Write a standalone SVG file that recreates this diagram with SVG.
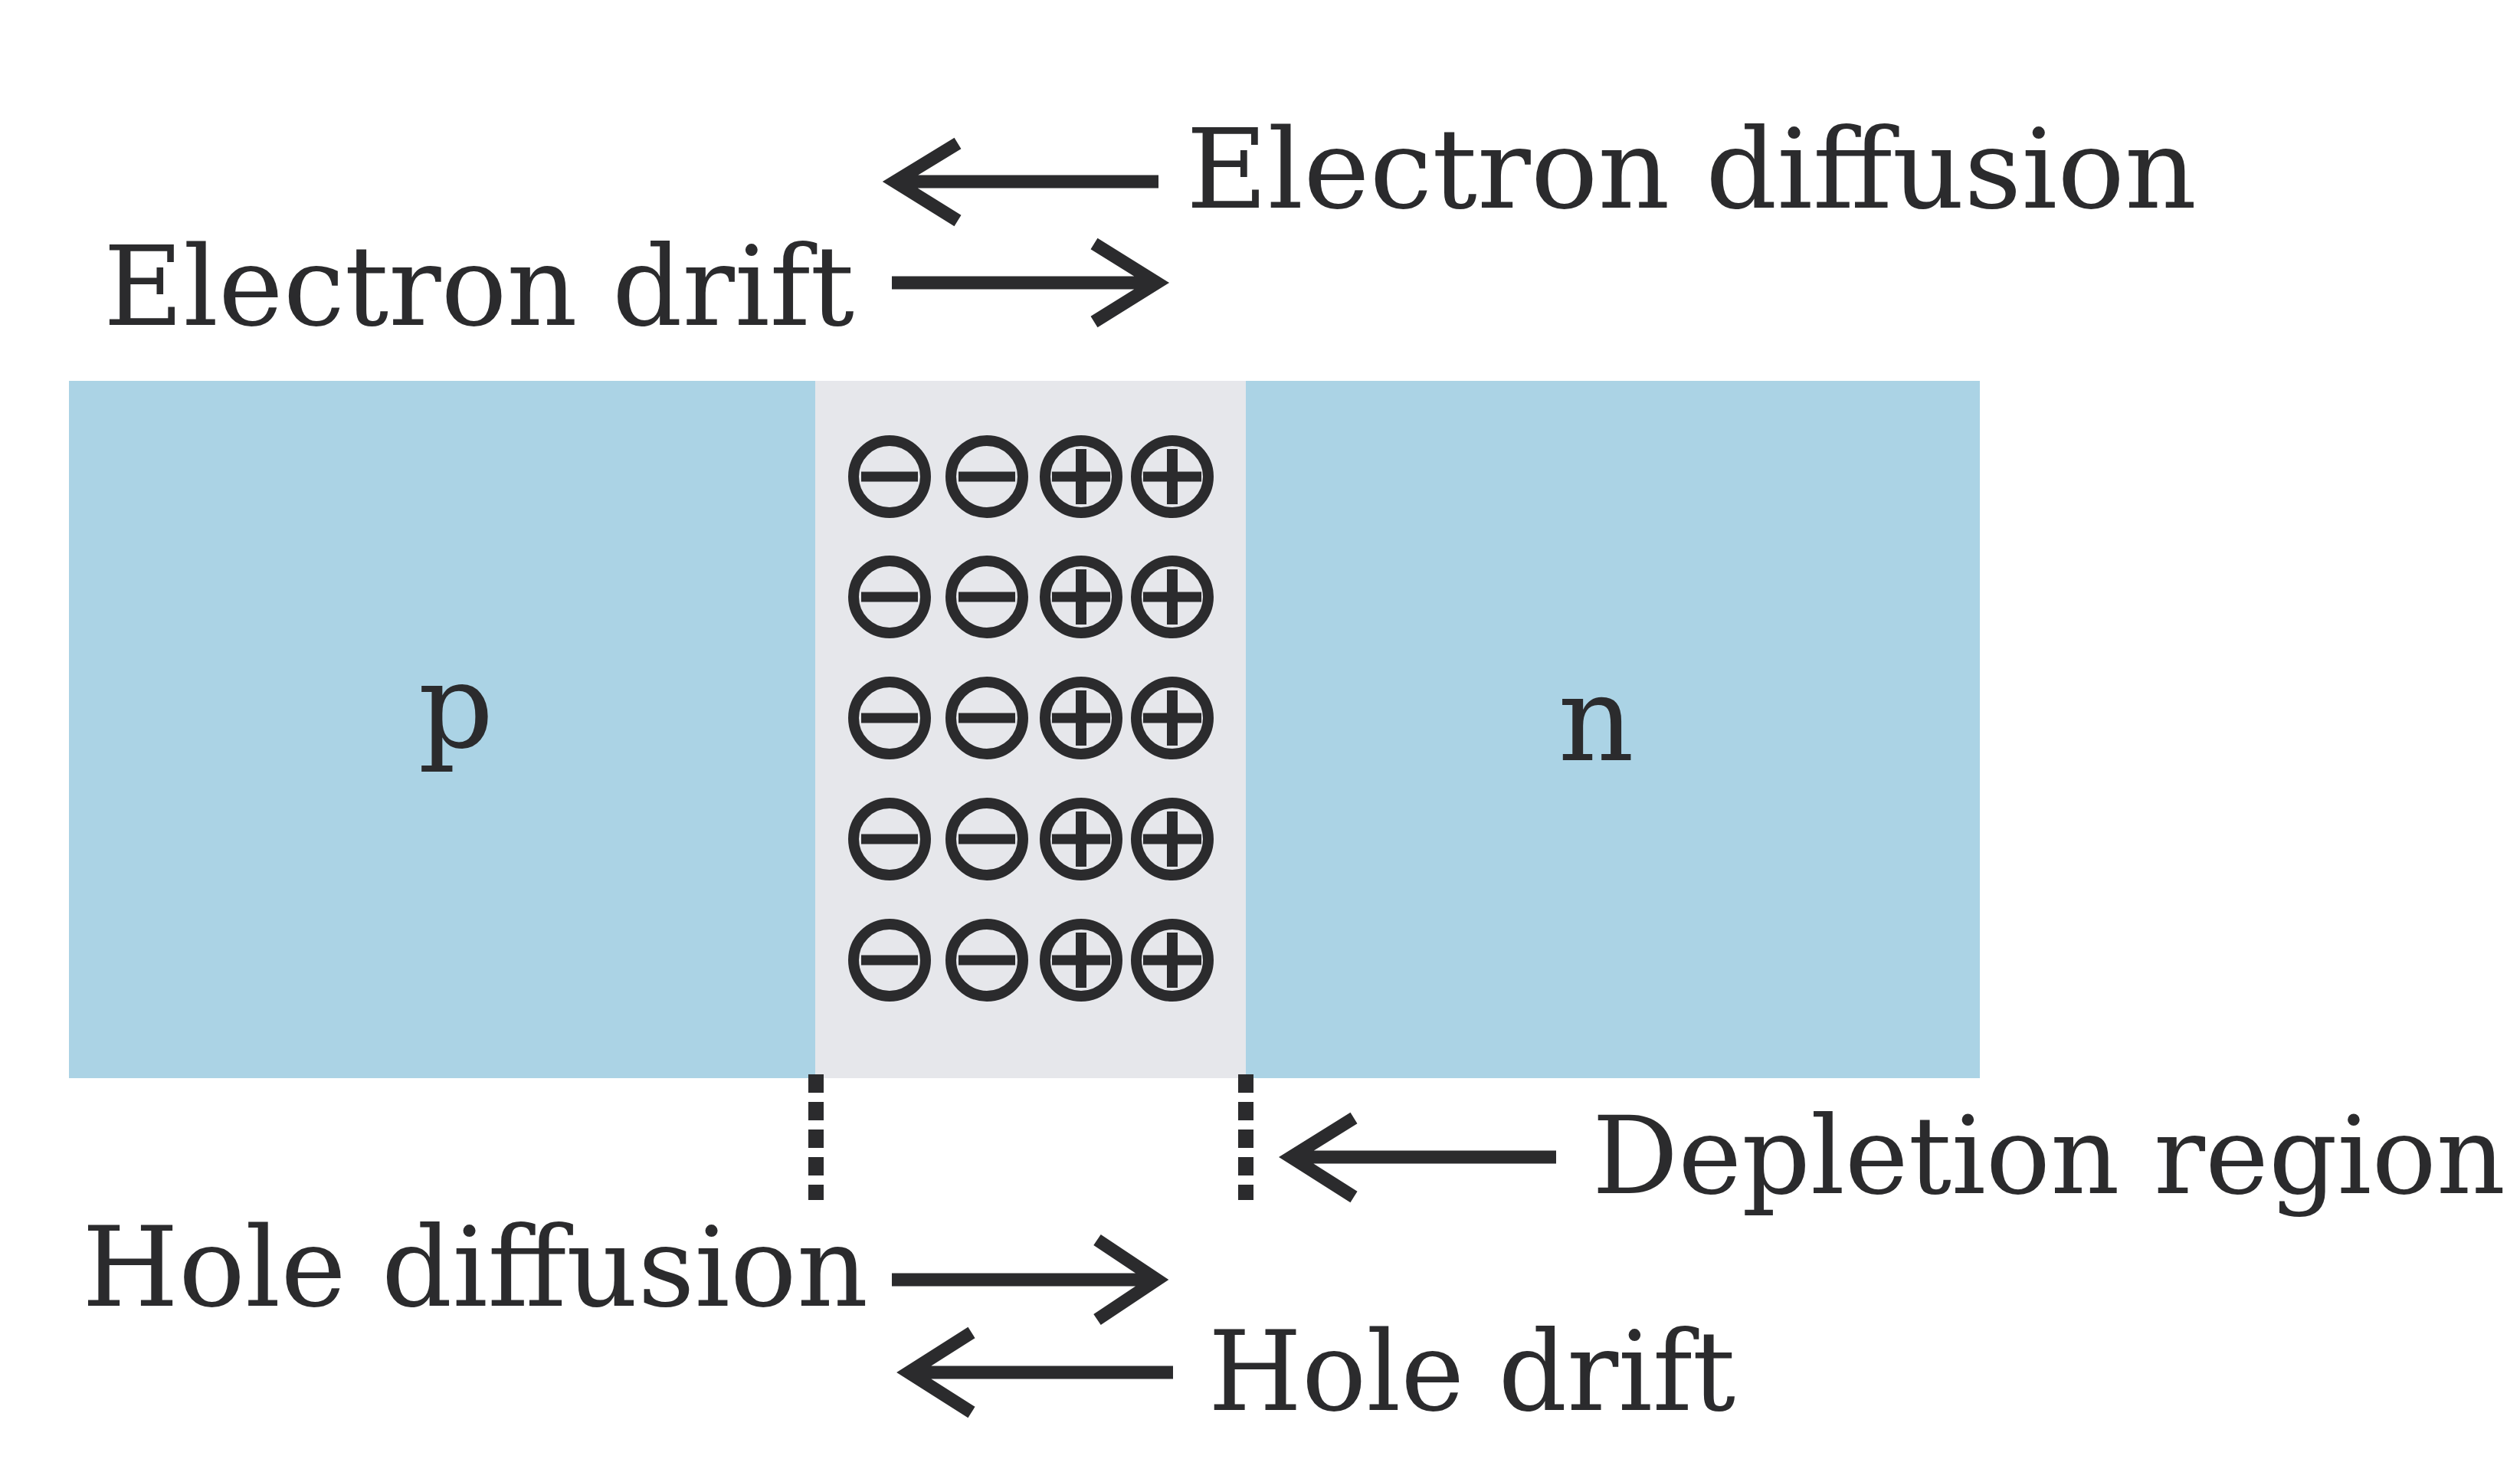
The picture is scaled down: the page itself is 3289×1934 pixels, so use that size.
<svg xmlns="http://www.w3.org/2000/svg" width="3289" height="1934" viewBox="0 0 3289 1934">
<defs>
<style>
.lbl{font-family:"DejaVu Serif","Liberation Serif",serif;font-size:144px;fill:#2b2b2d}
.big{font-family:"DejaVu Serif","Liberation Serif",serif;font-size:154px;fill:#2b2b2d;text-anchor:middle}
.blue{fill:#abd3e5}
.grey{fill:#e6e7eb}
.arr{fill:none;stroke:#2b2b2d;stroke-width:17;stroke-linejoin:miter;stroke-miterlimit:10}
.ion{fill:none;stroke:#2b2b2d;stroke-width:14}
.bar{fill:#2b2b2d}
.dash{stroke:#2b2b2d;stroke-width:20;stroke-dasharray:24 12}
</style>
<g id="neg"><circle class="ion" cx="0" cy="0" r="47"/><rect class="bar" x="-37" y="-6.5" width="74" height="13"/></g>
<g id="pos"><circle class="ion" cx="0" cy="0" r="47"/><rect class="bar" x="-38" y="-6.5" width="76" height="13"/><rect class="bar" x="-7" y="-36" width="14" height="72"/></g>
</defs>
<rect width="3289" height="1934" fill="#ffffff"/>
<g id="p-region"><rect class="blue" x="90" y="497" width="974" height="910"/><text class="big" x="595" y="975">p</text></g>
<g id="n-region"><rect class="blue" x="1626" y="497" width="958" height="910"/><text class="big" x="2083" y="992">n</text></g>
<g id="depletion">
<rect class="grey" x="1064" y="497" width="562" height="910"/>
<g id="ions">
<use href="#neg" x="1161" y="622"/><use href="#neg" x="1288" y="622"/><use href="#pos" x="1411" y="622"/><use href="#pos" x="1530" y="622"/>
<use href="#neg" x="1161" y="779"/><use href="#neg" x="1288" y="779"/><use href="#pos" x="1411" y="779"/><use href="#pos" x="1530" y="779"/>
<use href="#neg" x="1161" y="937"/><use href="#neg" x="1288" y="937"/><use href="#pos" x="1411" y="937"/><use href="#pos" x="1530" y="937"/>
<use href="#neg" x="1161" y="1095"/><use href="#neg" x="1288" y="1095"/><use href="#pos" x="1411" y="1095"/><use href="#pos" x="1530" y="1095"/>
<use href="#neg" x="1161" y="1253"/><use href="#neg" x="1288" y="1253"/><use href="#pos" x="1411" y="1253"/><use href="#pos" x="1530" y="1253"/>
</g>
</g>
<g id="boundaries">
<line class="dash" x1="1065" y1="1402" x2="1065" y2="1566"/>
<line class="dash" x1="1626" y1="1402" x2="1626" y2="1566"/>
</g>
<g id="labels">
<text class="lbl" x="1548" y="271" textLength="1319" lengthAdjust="spacingAndGlyphs">Electron diffusion</text>
<text class="lbl" x="135" y="424" textLength="980" lengthAdjust="spacingAndGlyphs">Electron drift</text>
<text class="lbl" x="107" y="1704" textLength="1026" lengthAdjust="spacingAndGlyphs">Hole diffusion</text>
<text class="lbl" x="1577" y="1840" textLength="688" lengthAdjust="spacingAndGlyphs">Hole drift</text>
<text class="lbl" x="2078" y="1557" style="font-size:141px" textLength="1192" lengthAdjust="spacingAndGlyphs">Depletion region</text>
</g>
<g id="connectors">
<path class="arr" d="M1512 237 H1172 M1250 187 L1168 237 L1250 288"/>
<path class="arr" d="M1164 369 H1504 M1428 318 L1510 369 L1428 420"/>
<path class="arr" d="M1164 1670 H1504 M1432 1618 L1510 1670 L1432 1722"/>
<path class="arr" d="M1531 1791 H1192 M1268 1739 L1186 1791 L1268 1843"/>
<path class="arr" d="M2031 1510 H1690 M1767 1459 L1685 1510 L1767 1562"/>
</g>
</svg>
